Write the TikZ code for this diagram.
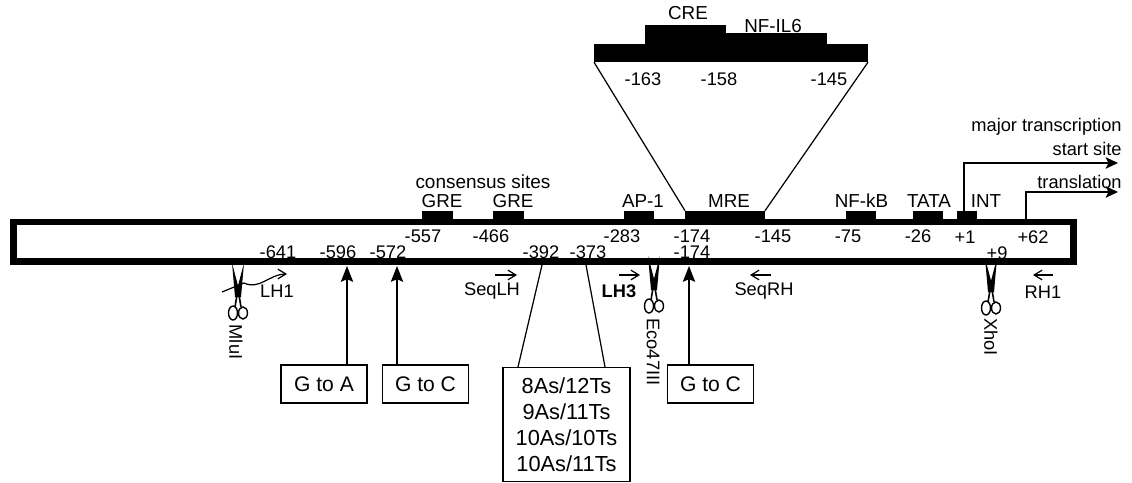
\documentclass[tikz,border=0pt]{standalone}
\usepackage{fontspec}
\setmainfont{Liberation Sans}
\usetikzlibrary{positioning, arrows.meta}

\begin{document}
\begin{tikzpicture}[
  x=0.02cm, y=-0.02cm,
  genebar/.style={draw=black, line width=0.13cm, inner sep=0pt, outer sep=0pt,
               minimum width=21.2cm, minimum height=0.79cm},
  sitebox/.style={fill=black, inner sep=0pt, outer sep=0pt, minimum height=0.19cm},
  sitelabel/.style={font=\fontsize{10.7}{12}\selectfont, inner sep=0pt},
  poslabel/.style={font=\fontsize{10.4}{12}\selectfont, inner sep=0pt},
  mutbox/.style={draw=black, line width=0.75pt, font=\fontsize{12}{14}\selectfont,
               inner sep=0pt, outer sep=0pt, minimum height=0.76cm, minimum width=1.72cm},
  primer/.style={-{Straight Barb[length=4.5pt,width=5.5pt]}, line width=0.7pt},
  mutarrow/.style={-{Stealth[length=9pt,width=7pt,inset=1.5pt]}, line width=0.75pt},
  startarrow/.style={-{Stealth[length=7pt,width=6.5pt,inset=1.5pt]}, line width=0.8pt},
  fan/.style={line width=0.7pt},
  cutter/.pic={
    \fill (-6,-32) -- (3,2) -- (-3,2) -- cycle;
    \fill (6,-32) -- (3,2) -- (-3,2) -- cycle;
    \draw[line width=0.9pt] (-1,0) -- (-3,12);
    \draw[line width=0.9pt] (1,0) -- (3,12);
    \draw[line width=0.8pt] (-5,18) ellipse (4.5 and 7);
    \draw[line width=0.8pt] (5,18) ellipse (4.5 and 6);
  }
]
  \useasboundingbox (0,0) rectangle (1132,483);

  %% Gene bar and sites
  \node[genebar] (bar) at (543.5,241.7) {};
  \node[sitebox, minimum width=0.62cm] (gre1) at (437.5,215.5) {};
  \node[sitebox, minimum width=0.62cm] (gre2) at (508.5,215.5) {};
  \node[sitebox, minimum width=0.60cm] (ap1)  at (639,215.5) {};
  \node[sitebox, minimum width=1.60cm] (mre)  at (725,215.5) {};
  \node[sitebox, minimum width=0.60cm] (nfkb) at (861,215.5) {};
  \node[sitebox, minimum width=0.60cm] (tata) at (928,215.5) {};
  \node[sitebox, minimum width=0.40cm] (int)  at (967,215.5) {};

  %% Enlarged region
  \node[sitebox, minimum width=5.48cm, minimum height=0.37cm] (ilbase) at (731,53) {};
  \node[sitebox, minimum width=1.62cm, minimum height=0.40cm] (cre) at (685.5,35) {};
  \node[sitebox, minimum width=2.02cm, minimum height=0.22cm] (il6) at (776.5,39) {};
  \draw[fan] (ilbase.south west) -- (mre.north west);
  \draw[fan] (ilbase.south east) -- (mre.north east);

  \node[sitelabel] (crelab) at (688,13) {CRE};
  \node[sitelabel] (il6lab) at (773,26) {NF-IL6};
  \node[poslabel] (p163) at (643,79) {-163};
  \node[poslabel] (p158) at (719,79) {-158};
  \node[poslabel] (p145t) at (829,79) {-145};

  %% Site labels
  \node[poslabel, font=\fontsize{10.8}{12}\selectfont] (cons) at (483,182) {consensus sites};
  \node[sitelabel] (lgre1) at (442,201) {GRE};
  \node[sitelabel] (lgre2) at (513,201) {GRE};
  \node[sitelabel] (lap1)  at (643,201) {AP-1};
  \node[sitelabel] (lmre)  at (729,201) {MRE};
  \node[sitelabel] (lnfkb) at (861.5,201) {NF-kB};
  \node[sitelabel] (ltata) at (929,201) {TATA};
  \node[sitelabel] (lint)  at (986,201) {INT};

  %% Positions, upper row
  \node[poslabel] (p557) at (423,236) {-557};
  \node[poslabel] (p466) at (491,236) {-466};
  \node[poslabel] (p283) at (622,236) {-283};
  \node[poslabel] (p174a) at (692,236) {-174};
  \node[poslabel] (p145) at (773,236) {-145};
  \node[poslabel] (p75)  at (848,236) {-75};
  \node[poslabel] (p26)  at (918,236) {-26};
  \node[poslabel] (p1)   at (965,237) {+1};
  \node[poslabel] (p62)  at (1033,237) {+62};

  %% Positions, lower row
  \node[poslabel] (p641) at (278,252) {-641};
  \node[poslabel] (p596) at (338,252) {-596};
  \node[poslabel] (p572) at (388,252) {-572};
  \node[poslabel] (p392) at (541,252) {-392};
  \node[poslabel] (p373) at (588,252) {-373};
  \node[poslabel] (p174b) at (692,252) {-174};
  \node[poslabel] (p9)   at (997,253) {+9};

  %% Start sites
  \node[poslabel, anchor=east] (major) at (1122,127) {major transcription};
  \node[poslabel, anchor=east] (start) at (1122,149) {start site};
  \node[poslabel, anchor=east] (trans) at (1122,182) {translation};
  \coordinate (tssend) at (1118,163);
  \coordinate (atgend) at (1118,192);
  \coordinate (tssfoot) at (964,211);
  \coordinate (atgfoot) at (1026,219);
  \draw[startarrow] (tssfoot) |- (tssend);
  \draw[startarrow] (atgfoot) |- (atgend);

  %% Mutation boxes
  \node[mutbox] (gta)  at (324,384) {G to A};
  \node[mutbox] (gtc1) at (425.5,384) {G to C};
  \node[mutbox] (gtc2) at (710.5,384) {G to C};
  \node[mutbox, minimum width=2.54cm, minimum height=2.29cm, align=center,
        font=\fontsize{12.4}{14.7}\selectfont] (repeats) at (566.5,424.5)
        {8As/12Ts\\9As/11Ts\\10As/10Ts\\10As/11Ts};

  \coordinate (m596) at (347,266);
  \coordinate (m572) at (397,266);
  \coordinate (m174) at (689,266);
  \coordinate (r392) at (542,265);
  \coordinate (r373) at (586,265);
  \coordinate (r392b) at (518,367);
  \coordinate (r373b) at (605,367);
  \draw[mutarrow] (gta.north -| m596) -- (m596);
  \draw[mutarrow] (gtc1.north -| m572) -- (m572);
  \draw[mutarrow] (gtc2.north -| m174) -- (m174);
  \draw[fan] (r392) -- (r392b);
  \draw[fan] (r373) -- (r373b);

  %% Primers
  \node[poslabel] (lh1) at (277,291) {LH1};
  \node[poslabel] (seqlh) at (492,291) {SeqLH};
  \node[poslabel] (lh3) at (619,291) {\textbf{LH3}};
  \node[poslabel] (seqrh) at (764,291) {SeqRH};
  \node[poslabel] (rh1) at (1043,292) {RH1};
  \coordinate (lh1a) at (244,283);
  \coordinate (lh1b) at (287,274);
  \coordinate (seqlha) at (495,275);
  \coordinate (seqlhb) at (517,275);
  \coordinate (lh3a) at (619,275);
  \coordinate (lh3b) at (640,275);
  \coordinate (seqrha) at (771,275);
  \coordinate (seqrhb) at (750,275);
  \coordinate (rh1a) at (1053,275);
  \coordinate (rh1b) at (1033,275);
  \draw[primer] (lh1a) to[out=-25, in=180] (lh1b);
  \draw[primer] (seqlha) -- (seqlhb);
  \draw[primer] (lh3a) -- (lh3b);
  \draw[primer] (seqrha) -- (seqrhb);
  \draw[primer] (rh1a) -- (rh1b);

  %% Restriction sites
  \pic (cutmlu) at (238,295) {cutter};
  \pic (cuteco) at (654,288) {cutter};
  \pic (cutxho) at (991,290) {cutter};
  \draw[line width=0.7pt] (222,292) -- (244,283);
  \node[poslabel, rotate=-90] (mlui) at (236,342) {MluI};
  \node[poslabel, rotate=-90] (eco) at (653,352) {Eco47III};
  \node[poslabel, rotate=-90] (xhoi) at (991,337) {XhoI};
\end{tikzpicture}
\end{document}
